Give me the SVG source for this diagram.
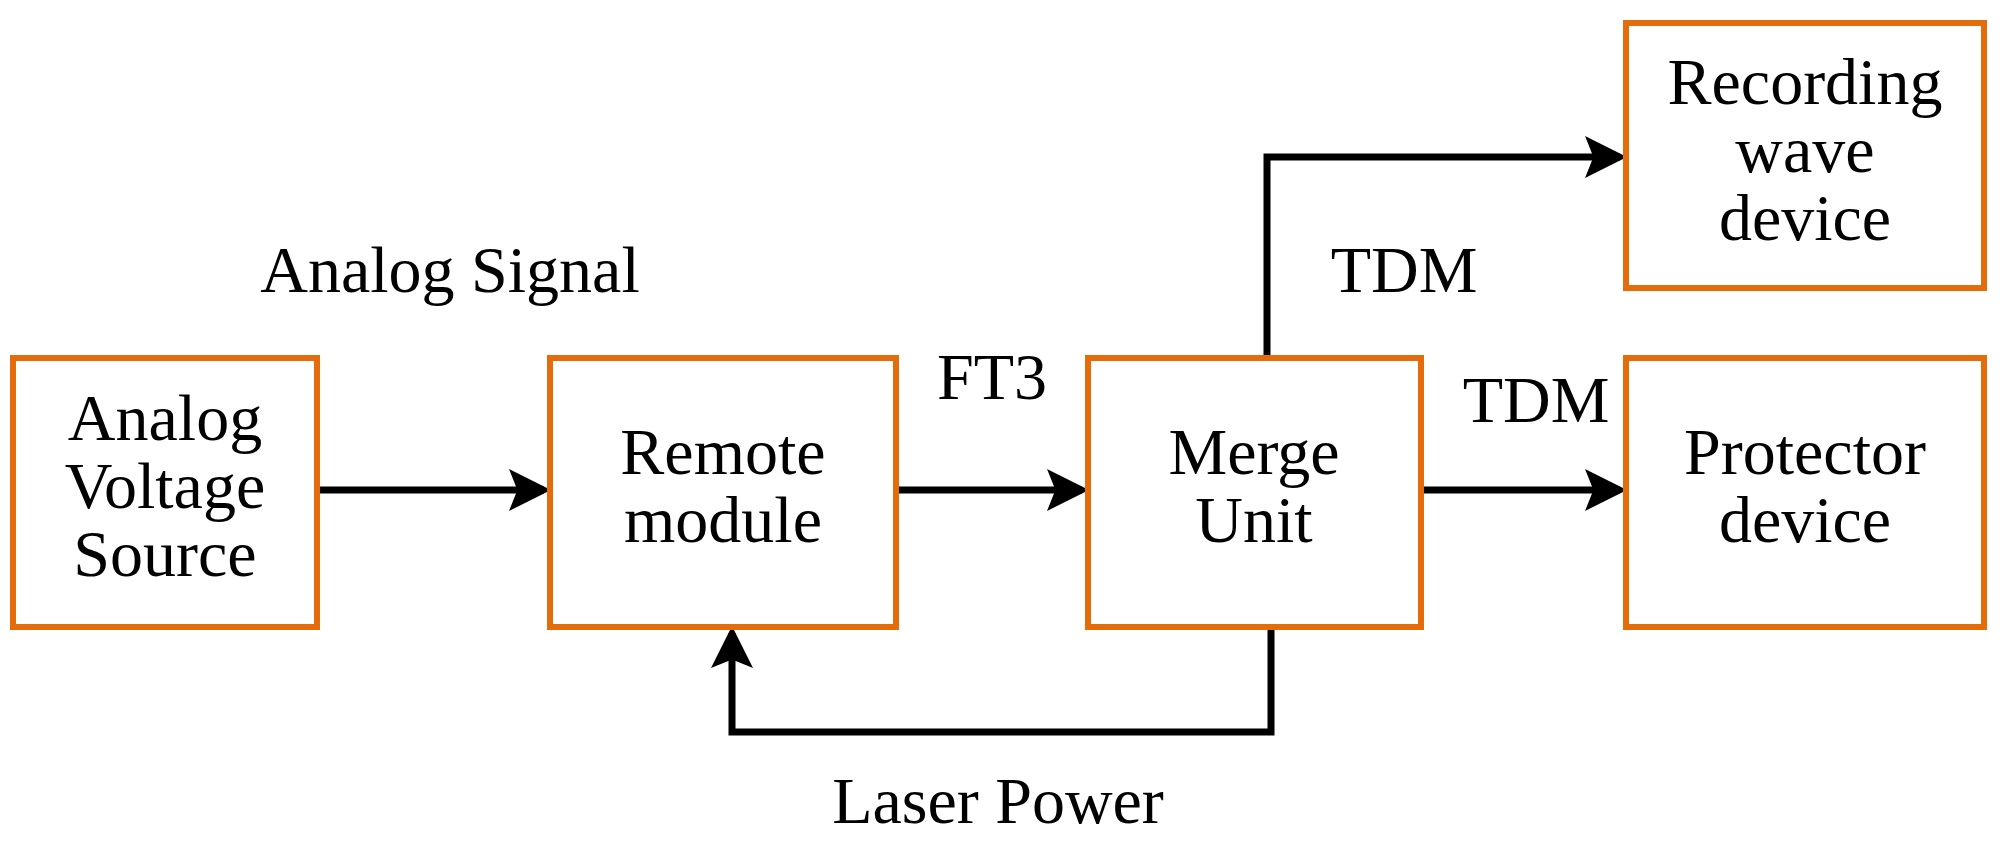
<svg xmlns="http://www.w3.org/2000/svg" width="2007" height="850" viewBox="0 0 2007 850">
<style>
.box{fill:#fff;stroke:#E46C0A;stroke-width:6}
.t{font-family:"Liberation Serif",serif;font-size:66px;fill:#000;text-anchor:middle}
.c{fill:none;stroke:#000;stroke-width:7}
</style>
<defs><marker id="a" markerWidth="6" markerHeight="6" refX="5" refY="3" orient="auto" markerUnits="strokeWidth"><path d="M0,0 L6,3 L0,6 L1.2,3 z" fill="#000"/></marker></defs>
<rect width="2007" height="850" fill="#fff"/>
<g id="connectors">
<line class="c" x1="317" y1="490" x2="544" y2="490" marker-end="url(#a)"/>
<line class="c" x1="896" y1="490" x2="1082" y2="490" marker-end="url(#a)"/>
<line class="c" x1="1421" y1="490" x2="1620" y2="490" marker-end="url(#a)"/>
<polyline class="c" points="1267,358 1267,157 1620,157" marker-end="url(#a)"/>
<polyline class="c" points="1271,627 1271,732 732,732 732,633" marker-end="url(#a)"/>
</g>
<g id="n1"><rect class="box" x="13" y="358" width="304" height="269"/><text class="t" x="165" y="440">Analog</text><text class="t" x="165" y="508">Voltage</text><text class="t" x="165" y="576">Source</text></g>
<g id="n2"><rect class="box" x="550" y="358" width="346" height="269"/><text class="t" x="723" y="474">Remote</text><text class="t" x="723" y="542">module</text></g>
<g id="n3"><rect class="box" x="1088" y="358" width="333" height="269"/><text class="t" x="1254" y="474">Merge</text><text class="t" x="1254" y="542">Unit</text></g>
<g id="n4"><rect class="box" x="1626" y="358" width="358" height="269"/><text class="t" x="1805" y="474">Protector</text><text class="t" x="1805" y="542">device</text></g>
<g id="n5"><rect class="box" x="1626" y="23" width="358" height="265"/><text class="t" x="1805" y="104">Recording</text><text class="t" x="1805" y="172">wave</text><text class="t" x="1805" y="240">device</text></g>
<g id="labels">
<text class="t" x="450" y="292">Analog Signal</text>
<text class="t" x="992" y="399">FT3</text>
<text class="t" x="1404" y="292">TDM</text>
<text class="t" x="1536" y="422">TDM</text>
<text class="t" x="998" y="823">Laser Power</text>
</g>
</svg>
